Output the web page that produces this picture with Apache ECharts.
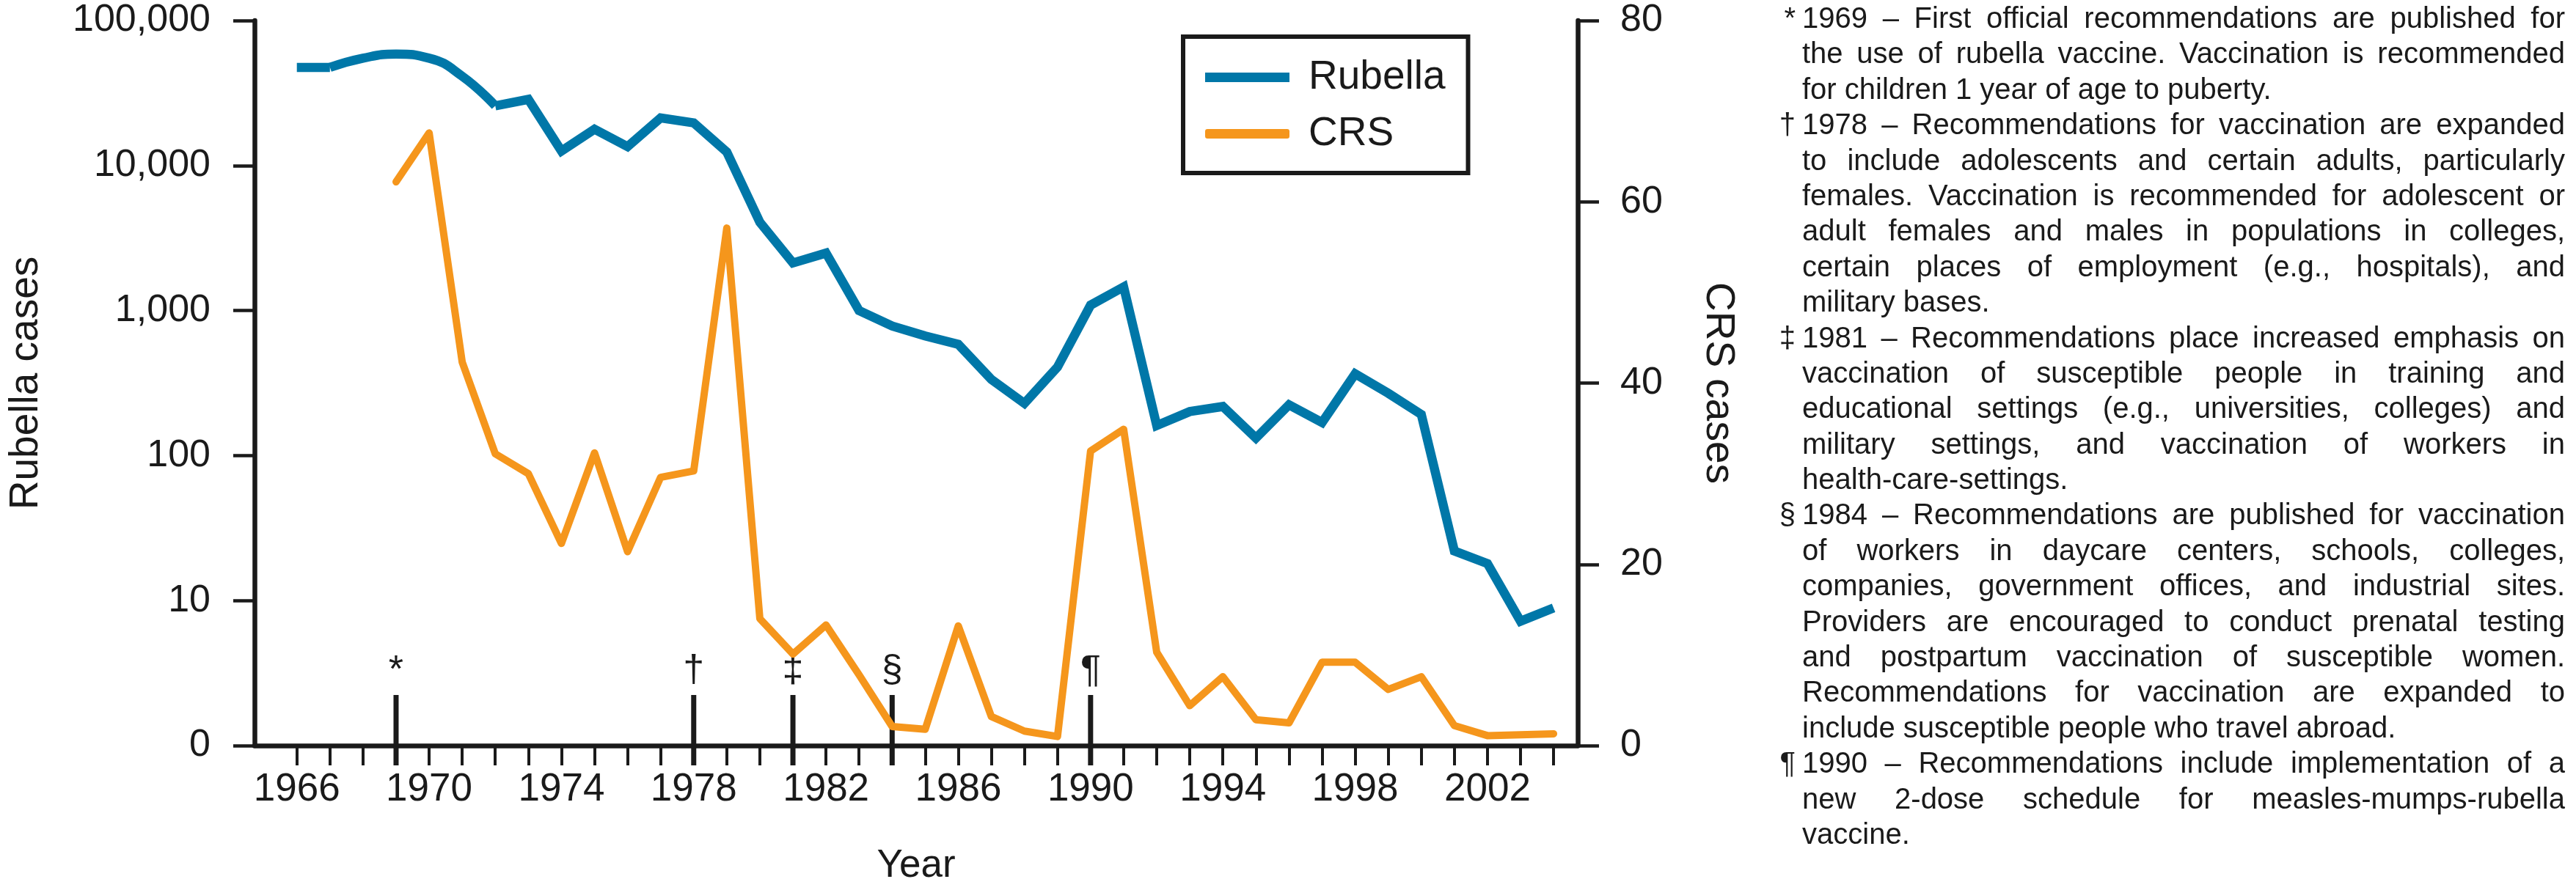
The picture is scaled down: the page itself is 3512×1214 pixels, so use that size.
<!DOCTYPE html>
<html>
<head>
<meta charset="utf-8">
<script src="https://cdn.jsdelivr.net/npm/echarts@6/dist/echarts.min.js"></script>
<style>
  html, body { margin: 0; padding: 0; background: #ffffff; }
  #chart { position: absolute; left: 0; top: 0; width: 3512px; height: 1214px; }
  #notes { position: absolute; left: 2457px; top: 0; width: 1040px;
           font-family: 'Liberation Sans', Arial, sans-serif; font-size: 40px;
           line-height: 48.4px; color: #1a1a1a; }
  #notes .ln { position: relative; height: 48.4px; white-space: nowrap;
               text-align: justify; text-align-last: justify; }
  #notes .ln.last { text-align-last: left; }
  #notes .sym { position: absolute; right: 100%; margin-right: 9px; top: 0; }
</style>
</head>
<body>
<div id="chart"></div>
<div id="notes"></div>
<script>
// ---------------- data ----------------
const years = [1966,1967,1968,1969,1970,1971,1972,1973,1974,1975,1976,1977,1978,1979,
               1980,1981,1982,1983,1984,1985,1986,1987,1988,1989,1990,1991,1992,1993,
               1994,1995,1996,1997,1998,1999,2000,2001,2002,2003,2004];
const rubellaCases = [47500,47500,55000,58700,55000,41300,25800,28600,12600,17800,13500,21300,19700,12400,
                      4060,2130,2490,1000,783,668,585,335,229,408,1090,1456,161,201,
                      218,132,224,169,366,269,192,22,18,7.2,8.9];
const crsYears = [1969,1970,1971,1972,1973,1974,1975,1976,1977,1978,1979,
                  1980,1981,1982,1983,1984,1985,1986,1987,1988,1989,1990,1991,1992,1993,
                  1994,1995,1996,1997,1998,1999,2000,2001,2002,2003,2004];
const crsCases = [62.2,67.6,42.3,32.2,30.0,22.3,32.3,21.4,29.6,30.3,57.1,
                  14.0,10.1,13.3,7.8,2.1,1.8,13.2,3.2,1.6,1.0,32.5,34.9,10.3,4.4,
                  7.6,2.85,2.5,9.2,9.2,6.2,7.6,2.2,1.1,1.2,1.3];
// years 1967-1972 of the rubella curve are drawn as a smooth hump in the original
const rubellaSmoothYears = [1967,1968,1969,1970,1971,1972];

const rubellaTickLabels = ['0','10','100','1,000','10,000','100,000'];
const crsTickMin = 0, crsTickMax = 80, crsTickStep = 20;
const xLabelYears = [1966,1970,1974,1978,1982,1986,1990,1994,1998,2002];
const xTickYears = years;

const noteYears = [1969,1978,1981,1984,1990];
const noteSymbols = ['*','\u2020','\u2021','\u00a7','\u00b6'];
const notes = [
  { sym: '*', lines: [
    '1969 \u2013 First official recommendations are published for',
    'the use of rubella vaccine. Vaccination is recommended',
    'for children 1 year of age to puberty.' ] },
  { sym: '\u2020', lines: [
    '1978 \u2013 Recommendations for vaccination are expanded',
    'to include adolescents and certain adults, particularly',
    'females. Vaccination is recommended for adolescent or',
    'adult females and males in populations in colleges,',
    'certain places of employment (e.g., hospitals), and',
    'military bases.' ] },
  { sym: '\u2021', lines: [
    '1981 \u2013 Recommendations place increased emphasis on',
    'vaccination of susceptible people in training and',
    'educational settings (e.g., universities, colleges) and',
    'military settings, and vaccination of workers in',
    'health-care-settings.' ] },
  { sym: '\u00a7', lines: [
    '1984 \u2013 Recommendations are published for vaccination',
    'of workers in daycare centers, schools, colleges,',
    'companies, government offices, and industrial sites.',
    'Providers are encouraged to conduct prenatal testing',
    'and postpartum vaccination of susceptible women.',
    'Recommendations for vaccination are expanded to',
    'include susceptible people who travel abroad.' ] },
  { sym: '\u00b6', lines: [
    '1990 \u2013 Recommendations include implementation of a',
    'new 2-dose schedule for measles-mumps-rubella',
    'vaccine.' ] }
];

// ---------------- notes (justified text) ----------------
const notesEl = document.getElementById('notes');
notes.forEach(n => {
  n.lines.forEach((t, i) => {
    const d = document.createElement('div');
    d.className = 'ln' + (i === n.lines.length - 1 ? ' last' : '');
    if (i === 0) {
      const s = document.createElement('span');
      s.className = 'sym';
      s.textContent = n.sym;
      d.appendChild(s);
    }
    d.appendChild(document.createTextNode(t));
    notesEl.appendChild(d);
  });
});

// ---------------- chart ----------------
const BLUE = '#0077a8';
const ORANGE = '#f5961c';
const INK = '#1a1a1a';
const FONT = "'Liberation Sans', Arial, sans-serif";

const rubellaSmoothData = years.map((y, i) => [y, rubellaCases[i]])
  .filter(d => rubellaSmoothYears.indexOf(d[0]) >= 0);
const rubellaStraightData = years.map((y, i) => {
  const k = rubellaSmoothYears.indexOf(y);
  const inner = k > 0 && k < rubellaSmoothYears.length - 1;
  return [y, inner ? '-' : rubellaCases[i]];
});
const crsData = crsYears.map((y, i) => [y, crsCases[i]]);
const noteData = noteYears.map((y, i) => [y, 0, i]);

const chart = echarts.init(document.getElementById('chart'), null, { renderer: 'canvas' });

const option = {
  animation: false,
  backgroundColor: '#ffffff',
  textStyle: { fontFamily: FONT, color: INK },
  grid: { left: 344, top: 28, width: 1807, height: 989, containLabel: false },
  legend: {
    data: [
      { name: 'Rubella', icon: 'rect' },
      { name: 'CRS', icon: 'roundRect' }
    ],
    orient: 'vertical',
    left: 1613, top: 50,
    padding: [28, 31, 26, 30],
    itemWidth: 115, itemHeight: 13, itemGap: 22,
    borderColor: INK, borderWidth: 6, backgroundColor: '#ffffff',
    textStyle: { fontSize: 55, color: INK, fontFamily: FONT, padding: [0, 0, 0, 21] },
    selectedMode: false
  },
  xAxis: {
    type: 'value',
    min: 1964.72, max: 2004.73,
    name: 'Year', nameLocation: 'middle', nameGap: 138,
    nameTextStyle: { fontSize: 53, color: INK, fontFamily: FONT },
    axisLine: { show: true, lineStyle: { color: INK, width: 6.5 } },
    axisTick: { show: true, inside: false, length: 27, customValues: xTickYears,
                lineStyle: { color: INK, width: 4 } },
    axisLabel: { customValues: xLabelYears, margin: 34, fontSize: 53, color: INK, fontFamily: FONT,
                 formatter: v => String(v) },
    splitLine: { show: false }
  },
  yAxis: [
    {
      type: 'log', logBase: 10, min: 1, max: 100000,
      position: 'left',
      name: 'Rubella cases', nameLocation: 'middle', nameGap: 284, nameRotate: 90,
      nameTextStyle: { fontSize: 55, color: INK, fontFamily: FONT },
      axisLine: { show: true, lineStyle: { color: INK, width: 6.5 } },
      axisTick: { show: true, length: 29, lineStyle: { color: INK, width: 4.5 } },
      minorTick: { show: false },
      axisLabel: { margin: 60, fontSize: 52, color: INK, fontFamily: FONT,
                   formatter: v => rubellaTickLabels[Math.round(Math.log10(v))] },
      splitLine: { show: false }
    },
    {
      type: 'value', min: crsTickMin, max: crsTickMax, interval: crsTickStep,
      position: 'right',
      name: 'CRS cases', nameLocation: 'middle', nameGap: 164, nameRotate: -90,
      nameTextStyle: { fontSize: 55, color: INK, fontFamily: FONT },
      axisLine: { show: true, lineStyle: { color: INK, width: 6.5 } },
      axisTick: { show: true, length: 29, lineStyle: { color: INK, width: 4.5 } },
      axisLabel: { margin: 58, fontSize: 52, color: INK, fontFamily: FONT },
      splitLine: { show: false }
    }
  ],
  series: [
    {
      name: 'Rubella', type: 'line', yAxisIndex: 0, z: 3,
      data: rubellaStraightData, connectNulls: false,
      symbol: 'none', showSymbol: false,
      lineStyle: { color: BLUE, width: 12.5, join: 'miter' },
      itemStyle: { color: BLUE }
    },
    {
      name: 'Rubella', type: 'line', yAxisIndex: 0, z: 3,
      data: rubellaSmoothData, smooth: 0.5,
      symbol: 'none', showSymbol: false,
      lineStyle: { color: BLUE, width: 12.5 },
      itemStyle: { color: BLUE }
    },
    {
      name: 'CRS', type: 'line', yAxisIndex: 1, z: 4,
      data: crsData,
      symbol: 'none', showSymbol: false,
      lineStyle: { color: ORANGE, width: 10, cap: 'round', join: 'round' },
      itemStyle: { color: ORANGE }
    },
    {
      name: 'notes', type: 'custom', yAxisIndex: 1, z: 2, clip: false,
      silent: true, legendHoverLink: false,
      data: noteData,
      renderItem: function (params, api) {
        const p = api.coord([api.value(0), 0]);
        const up = 69, down = 27;
        return {
          type: 'group',
          children: [
            { type: 'line',
              shape: { x1: p[0], y1: p[1] + down, x2: p[0], y2: p[1] - up },
              style: { stroke: INK, lineWidth: 7 } },
            { type: 'text',
              style: { text: noteSymbols[api.value(2)], x: p[0], y: p[1] - up - 6,
                       align: 'center', verticalAlign: 'bottom',
                       fontSize: 52, fontFamily: FONT, fill: INK } }
          ]
        };
      }
    }
  ]
};
chart.setOption(option);
</script>
</body>
</html>
